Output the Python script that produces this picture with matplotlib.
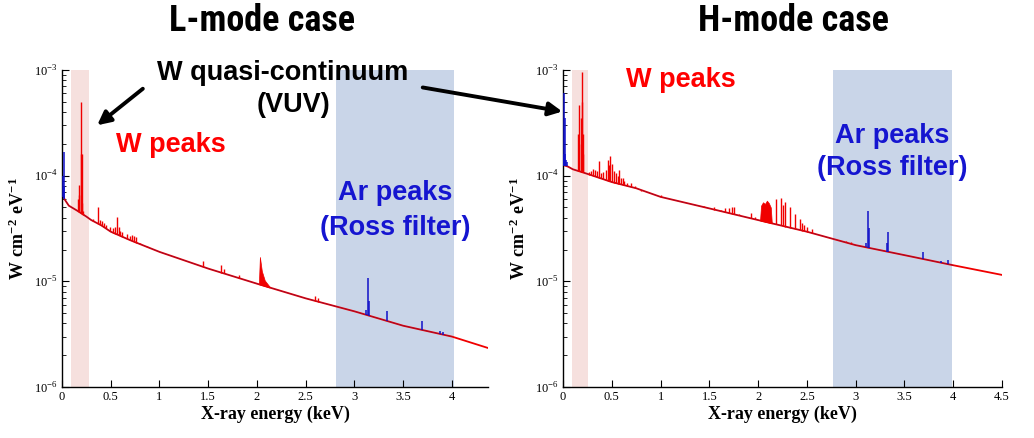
import numpy as np
import matplotlib
matplotlib.use("Agg")
import matplotlib.pyplot as plt
from matplotlib import font_manager
from matplotlib.patches import FancyArrowPatch

# ---- data ----
# continuum (keV, W cm^-2 eV^-1)
l_cont_e = [0.0, 0.03, 0.07, 0.15, 0.25, 0.3, 0.4, 0.5, 0.7, 1.0, 1.5, 2.0, 2.5, 3.0, 3.5, 4.0, 4.37]
l_cont_v = [6.8e-5, 5.9e-5, 5.2e-5, 4.7e-5, 4.1e-5, 3.8e-5, 3.4e-5, 2.95e-5, 2.45e-5, 1.9e-5,
            1.32e-5, 9.5e-6, 6.9e-6, 5.2e-6, 3.8e-6, 3.0e-6, 2.34e-6]
r_cont_e = [0.0, 0.05, 0.1, 0.25, 0.5, 0.75, 1.0, 1.5, 2.0, 2.5, 3.0, 3.5, 4.0, 4.5]
r_cont_v = [1.26e-4, 1.22e-4, 1.15e-4, 1.04e-4, 8.7e-5, 7.6e-5, 6.3e-5, 4.9e-5, 3.8e-5,
            2.95e-5, 2.2e-5, 1.77e-5, 1.42e-5, 1.15e-5]

# W lines (red), L-mode
l_w_e = [0.165, 0.17, 0.175, 0.195, 0.2, 0.205, 0.21, 0.22,
         0.32, 0.37, 0.39, 0.41, 0.43, 0.45, 0.49, 0.52, 0.545, 0.565, 0.58, 0.6, 0.62,
         0.67, 0.7, 0.72, 0.74, 0.76, 0.8, 0.87, 0.95,
         1.45, 1.63, 1.66, 1.82, 2.6, 2.63]
l_w_top = [6.0e-5, 8.1e-5, 6.5e-5, 1.6e-4, 5.0e-4, 1.6e-4, 5.5e-5, 4.6e-5,
           3.9e-5, 5.1e-5, 3.8e-5, 3.7e-5, 3.6e-5, 3.4e-5, 3.3e-5, 3.2e-5, 3.3e-5, 4.1e-5, 3.3e-5, 3.0e-5, 2.9e-5,
           2.8e-5, 2.7e-5, 2.75e-5, 2.7e-5, 2.6e-5, 2.3e-5, 2.15e-5, 2.0e-5,
           1.56e-5, 1.42e-5, 1.3e-5, 1.15e-5, 7.2e-6, 7.0e-6]
# dense W band near 2 keV, L-mode
l_band_e = [2.02, 2.03, 2.05, 2.08, 2.13]
l_band_top = [9.6e-6, 1.7e-5, 1.25e-5, 1.02e-5, 8.9e-6]
# Ar / low-energy lines (blue), L-mode
l_ar_e = [0.015, 0.02, 0.025, 3.12, 3.14, 3.145, 3.33, 3.69, 3.88, 3.91]
l_ar_top = [1.0e-4, 1.68e-4, 8.0e-5, 5.4e-6, 1.08e-5, 6.5e-6, 5.25e-6, 4.2e-6, 3.4e-6, 3.3e-6]

# W lines, H-mode
r_w_e = [0.155, 0.16, 0.165, 0.185, 0.19, 0.195, 0.2, 0.205,
         0.27, 0.29, 0.31, 0.33, 0.35, 0.37, 0.39, 0.41, 0.44, 0.46, 0.475, 0.48, 0.5,
         0.52, 0.54, 0.56, 0.57, 0.59, 0.61, 0.63, 0.66, 0.7, 0.74, 0.8, 0.9, 1.0,
         1.45, 1.55, 1.62, 1.66, 1.7, 1.73, 1.75, 1.8, 1.93, 1.97,
         2.18, 2.23, 2.26, 2.28, 2.33, 2.38, 2.43, 2.45, 2.47, 2.5, 2.55, 2.9, 2.95]
r_w_top = [2.5e-4, 4.7e-4, 2.0e-4, 3.5e-4, 9.6e-4, 5.0e-4, 2.5e-4, 1.6e-4,
           1.08e-4, 1.1e-4, 1.15e-4, 1.12e-4, 1.1e-4, 1.37e-4, 1.05e-4, 1.08e-4, 1.12e-4, 1.4e-4, 1.25e-4, 1.53e-4, 1.3e-4,
           1.1e-4, 1.05e-4, 1.0e-4, 1.13e-4, 9.6e-5, 9.5e-5, 9.0e-5, 8.5e-5, 8.6e-5, 7.9e-5, 7.2e-5, 6.8e-5, 6.5e-5,
           5.2e-5, 5.1e-5, 4.7e-5, 4.9e-5, 4.9e-5, 5.1e-5, 5.0e-5, 4.3e-5, 4.4e-5, 4.1e-5,
           6.0e-5, 6.1e-5, 5.3e-5, 5.6e-5, 5.0e-5, 4.3e-5, 3.9e-5, 3.6e-5, 3.4e-5, 3.3e-5, 3.1e-5, 2.4e-5, 2.35e-5]
r_band_e = [2.02, 2.03, 2.05, 2.07, 2.09, 2.11, 2.13, 2.14]
r_band_top = [3.8e-5, 5.2e-5, 5.6e-5, 5.4e-5, 5.8e-5, 5.5e-5, 5.0e-5, 3.6e-5]
r_ar_e = [0.005, 0.01, 0.015, 0.02, 0.025, 0.03, 0.04, 3.11, 3.13, 3.135, 3.325, 3.33, 3.69, 3.87, 3.95]
r_ar_top = [1.5e-4, 1.6e-4, 6.0e-4, 3.5e-4, 1.6e-4, 1.4e-4, 1.35e-4, 2.3e-5, 4.6e-5, 3.2e-5, 2.3e-5, 2.9e-5,
            1.9e-5, 1.55e-5, 1.6e-5]

RED = "#f00000"
BLUE = "#1010c8"
NAVY = "#202070"
PINK = "#f6e0de"
LBLUE = "#c9d5e8"

# condensed face for the titles if one is around
names = {f.name for f in font_manager.fontManager.ttflist}
title_font, title_size = "Liberation Sans", 22
for cand in ["Liberation Sans Narrow", "Roboto Condensed", "Open Sans Condensed", "Noto Sans Condensed"]:
    if cand in names:
        title_font, title_size = cand, 26
        break

plt.rcParams["mathtext.fontset"] = "custom"
plt.rcParams["mathtext.rm"] = "Liberation Serif"
plt.rcParams["mathtext.bf"] = "Liberation Serif:bold"
plt.rcParams["font.family"] = ["Liberation Serif", "DejaVu Serif"]

W, H = 1034, 438
fig = plt.figure(figsize=(W / 100, H / 100), dpi=100)


def px(x, y):
    # figure pixel (from top-left) -> figure fraction
    return x / W, 1 - y / H


def base_at(e, cont_e, cont_v):
    return 10 ** np.interp(e, cont_e, np.log10(cont_v))


def draw_panel(rect, xmax, xticks, cont_e, cont_v, w_e, w_top, band_e, band_top,
               ar_e, ar_top, pink, lblue):
    ax = fig.add_axes(rect)
    ax.axvspan(pink[0], pink[1], color=PINK, lw=0, zorder=0)
    ax.axvspan(lblue[0], lblue[1], color=LBLUE, lw=0, zorder=0)

    ax.plot(cont_e, cont_v, color=RED, lw=1.3, zorder=2)
    # blue spectrum running under 4 keV
    ce = np.array(cont_e)
    mask = ce <= 4.02
    ax.plot(ce[mask], np.array(cont_v)[mask], color=NAVY, lw=0.5, alpha=0.5, zorder=3)

    ax.vlines(w_e, base_at(w_e, cont_e, cont_v), w_top, color=RED, lw=1.0, zorder=4)
    ax.fill_between(band_e, base_at(band_e, cont_e, cont_v), band_top, color=RED, lw=0.5, zorder=4)
    ax.vlines(ar_e, base_at(ar_e, cont_e, cont_v), ar_top, color=BLUE, lw=1.1, zorder=5)

    ax.set_yscale("log")
    ax.set_ylim(1e-6, 1e-3)
    ax.set_xlim(0, xmax)
    ax.set_xticks(xticks)
    ax.set_xticklabels([f"{t:g}" for t in xticks])
    ax.set_yticks([1e-6, 1e-5, 1e-4, 1e-3])
    ax.set_yticklabels(["$10^{-6}$", "$10^{-5}$", "$10^{-4}$", "$10^{-3}$"])
    ax.tick_params(direction="in", labelsize=9, length=5, width=0.8, pad=3)
    ax.tick_params(which="minor", direction="in", length=3, width=0.6)
    ax.minorticks_on()
    ax.xaxis.set_minor_locator(plt.NullLocator())
    for s in ["top", "right"]:
        ax.spines[s].set_visible(False)
    ax.spines["left"].set_linewidth(1.0)
    ax.spines["bottom"].set_linewidth(1.0)
    ax.set_xlabel("X-ray energy (keV)", fontsize=13, fontweight="bold", labelpad=2)
    ax.set_ylabel(r"$\mathbf{W\ cm^{-2}\ eV^{-1}}$", fontsize=13, labelpad=4)
    return ax


ax1 = draw_panel([62 / W, 51 / H, 426 / W, 317 / H], 4.37, [0, 0.5, 1, 1.5, 2, 2.5, 3, 3.5, 4],
                 l_cont_e, l_cont_v, l_w_e, l_w_top, l_band_e, l_band_top, l_ar_e, l_ar_top,
                 (0.09, 0.28), (2.81, 4.02))
ax2 = draw_panel([563 / W, 51 / H, 439 / W, 317 / H], 4.5, [0, 0.5, 1, 1.5, 2, 2.5, 3, 3.5, 4, 4.5],
                 r_cont_e, r_cont_v, r_w_e, r_w_top, r_band_e, r_band_top, r_ar_e, r_ar_top,
                 (0.09, 0.26), (2.77, 3.99))

# titles
fig.text(*px(262, 21), "L-mode case", family=title_font, fontsize=title_size, fontweight="bold", ha="center", va="center")
fig.text(*px(793, 21), "H-mode case", family=title_font, fontsize=title_size, fontweight="bold", ha="center", va="center")

sans = ["Liberation Sans", "DejaVu Sans"]
fig.text(*px(283, 73), "W quasi-continuum", family=sans, fontsize=19.5, fontweight="bold", ha="center", va="center")
fig.text(*px(294, 105), "(VUV)", family=sans, fontsize=19.5, fontweight="bold", ha="center", va="center")
fig.text(*px(171, 145), "W peaks", family=sans, fontsize=19.5, fontweight="bold", color="#ff0000", ha="center", va="center")
fig.text(*px(681, 80), "W peaks", family=sans, fontsize=19.5, fontweight="bold", color="#ff0000", ha="center", va="center")
for cx, y1, y2 in [(395, 193, 228), (892, 136, 168)]:
    fig.text(*px(cx, y1), "Ar peaks", family=sans, fontsize=19.5, fontweight="bold", color="#1515d0", ha="center", va="center")
    fig.text(*px(cx, y2), "(Ross filter)", family=sans, fontsize=19.5, fontweight="bold", color="#1515d0", ha="center", va="center")

# arrows from the "W quasi-continuum" label
for start, end in [((145, 87), (95, 127)), ((420, 87), (565, 112))]:
    fig.add_artist(FancyArrowPatch(px(*start), px(*end), transform=fig.transFigure,
                                   arrowstyle="-|>", mutation_scale=20, lw=2.8, color="black"))

fig.savefig("out.png", dpi=100)
